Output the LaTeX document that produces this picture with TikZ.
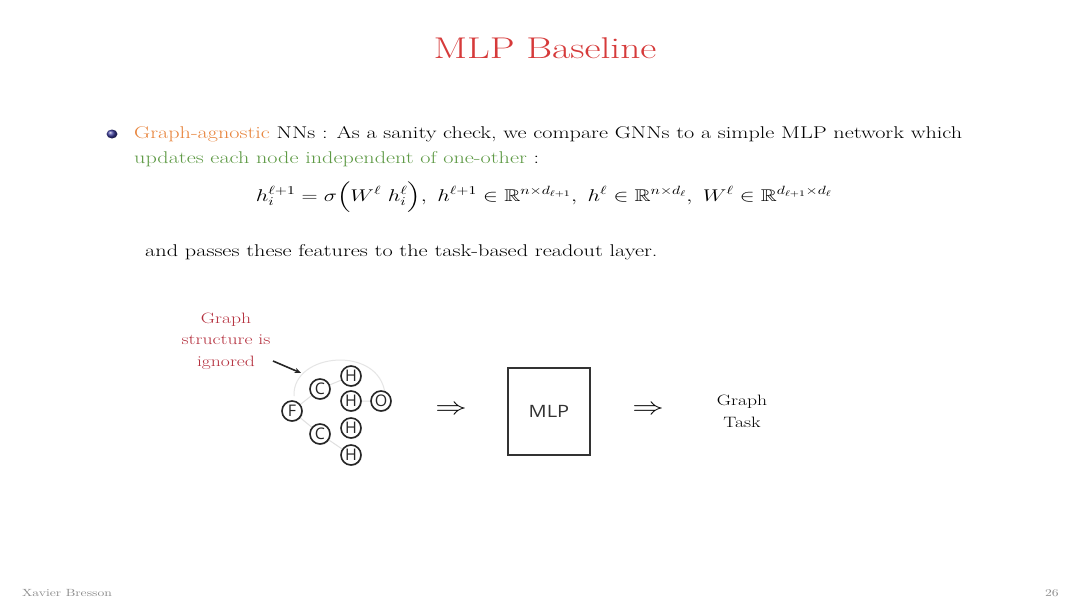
\documentclass[tikz,border=0pt]{standalone}
\usepackage{fix-cm}
\usepackage{graphicx}
\usepackage{amsmath,amssymb}
\usepackage{fontspec}
\newfontfamily\osans{Open Sans}
\usetikzlibrary{shadows,arrows.meta}
\definecolor{titlered}{HTML}{D63A3A}
\definecolor{agorange}{HTML}{E8853D}
\definecolor{updgreen}{HTML}{5E9A45}
\definecolor{ignred}{HTML}{B5303E}
\definecolor{ballblue}{HTML}{3A3A9A}
\newcommand\xs[1]{\scalebox{1.31}[1]{#1}}
\tikzset{
  atom/.style={circle,draw=black!85,line width=1.6pt,fill=white,minimum size=20pt,inner sep=0pt,
    font=\osans\fontsize{16}{16}\selectfont,text=black!85,
    drop shadow={shadow xshift=0.9pt,shadow yshift=-0.9pt,fill=black!40}},
  bond/.style={draw=black!12,line width=1pt},
  body/.style={anchor=base west,inner sep=0pt,font=\fontsize{17}{21}\selectfont},
  darr/.style={inner sep=0pt,font=\fontsize{24}{24}\selectfont}
}
\begin{document}
\begin{tikzpicture}[x=1pt,y=-1pt]
\useasboundingbox[fill=white] (0,0) rectangle (1080,608);
% title
\node[inner sep=0pt,anchor=base,text=titlered,font=\fontsize{30}{36}\selectfont] (title) at (545,58.5) {\scalebox{1.315}[1]{MLP Baseline}};
% bullet
\shade[ball color=ballblue] (112,134) ellipse (5.5 and 4.5);
\node[body] (l1) at (134,138.5) {\scalebox{1.305}[1]{\textcolor{agorange}{Graph-agnostic} NNs : As a sanity check, we compare GNNs to a simple MLP network which}};
\node[body] (l2) at (134,163.5) {\scalebox{1.305}[1]{\textcolor{updgreen}{updates each node independent of one-other} :}};
\node[inner sep=0pt,anchor=base,font=\fontsize{17}{21}\selectfont] (eq) at (544,201)
 {\xs{$h_i^{\ell+1} = \sigma\Big(W^\ell\ h_i^\ell\Big),\ h^{\ell+1}\in\mathbb{R}^{n\times d_{\ell+1}},\ h^\ell\in\mathbb{R}^{n\times d_\ell},\ W^\ell\in\mathbb{R}^{d_{\ell+1}\times d_\ell}$}};
\node[body] (l3) at (145,256) {\xs{and passes these features to the task-based readout layer.}};
% annotation
\node[inner sep=0pt,align=center,text=ignred,font=\fontsize{15}{21.5}\selectfont] (ign) at (226,341) {\xs{Graph}\\\xs{structure is}\\\xs{ignored}};
\coordinate (arrs) at (273,361);
\coordinate (arre) at (301,373);
\draw[line width=1.6pt,black!85,-{Stealth[length=6.5pt,width=5.5pt]}] (arrs) -- (arre);
% molecule
\coordinate (arcA) at (294,396);
\coordinate (arcB) at (385,394);
\draw[draw=black!10,line width=1pt] (arcA) .. controls (292,352) and (380,345) .. (arcB);
\path[bond] (292,411) -- (320,389) (292,411) -- (320,434) (320,389) -- (351,376) (320,434) -- (351,455) (351,401) -- (381,401);
\node[atom] (F) at (292,411) {F};
\node[atom] (C1) at (320,389) {C};
\node[atom] (C2) at (320,434) {C};
\node[atom] (H1) at (351,376) {H};
\node[atom] (H2) at (351,401) {H};
\node[atom] (H3) at (351,428) {H};
\node[atom] (H4) at (351,455) {H};
\node[atom] (O) at (381,401) {O};
% arrows and MLP
\node[darr] (a1) at (451,410) {\xs{$\Rightarrow$}};
\node[draw=black!80,line width=1.2pt,minimum width=82pt,minimum height=87pt,fill=white,
  drop shadow={shadow xshift=1pt,shadow yshift=-1pt,fill=black!35},
  font=\osans\fontsize{17}{17}\selectfont,text=black!80] (mlp) at (549,411.5) {\scalebox{1.18}[1]{MLP}};
\node[darr] (a2) at (648,410) {\xs{$\Rightarrow$}};
\node[inner sep=0pt,align=center,font=\fontsize{15}{21.5}\selectfont] (task) at (742,411.5) {\xs{Graph}\\\xs{Task}};
% footer
\node[inner sep=0pt,anchor=base west,text=black!45,font=\fontsize{10.4}{12}\selectfont] (auth) at (22,596) {\xs{Xavier Bresson}};
\node[inner sep=0pt,anchor=base east,text=black!45,font=\fontsize{10.4}{12}\selectfont] (pg) at (1059,596) {\xs{26}};
\end{tikzpicture}
\end{document}
